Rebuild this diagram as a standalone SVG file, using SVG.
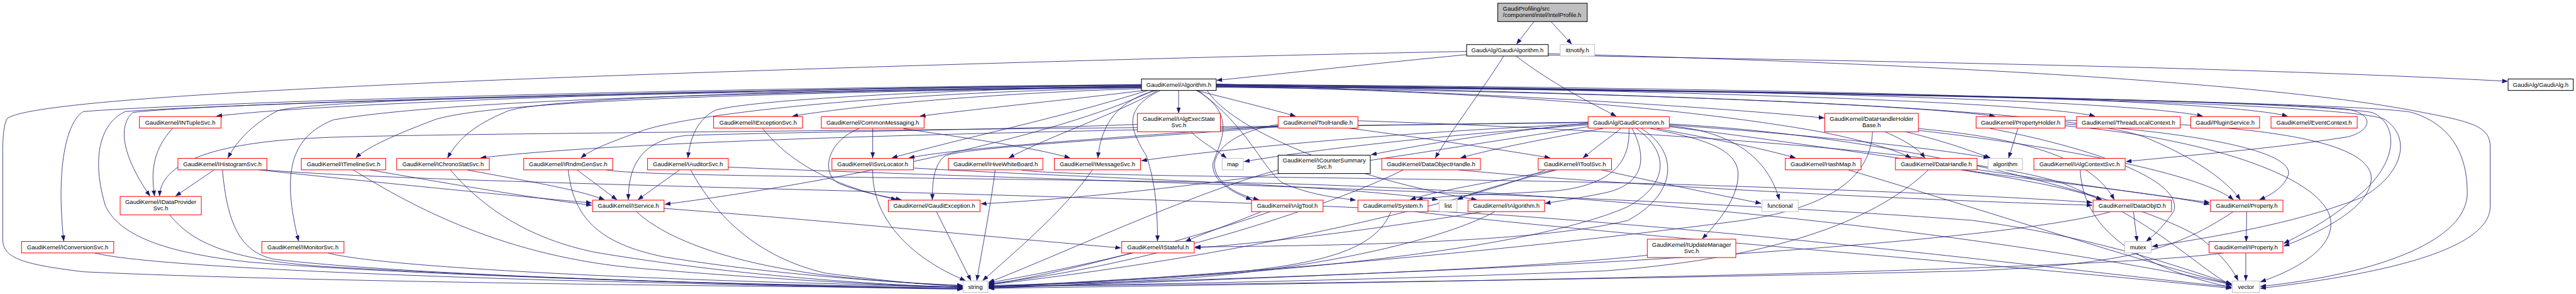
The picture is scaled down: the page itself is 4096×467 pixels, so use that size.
<svg xmlns="http://www.w3.org/2000/svg" width="4096" height="467" viewBox="0 0 4096 467">
<defs>
<marker id="ah" viewBox="0 0 12 9" refX="12" refY="4.5" markerWidth="12" markerHeight="9" orient="auto" markerUnits="userSpaceOnUse">
<path d="M0,0 L12,4.5 L0,9 z" fill="#191970" stroke="#191970" stroke-width="0.5"/>
</marker>
<style>
.e path{fill:none;stroke:#191970;stroke-width:1.1;marker-end:url(#ah)}
.node rect{fill:#ffffff;stroke:#ff0000;stroke-width:1.4}
.node.k rect{stroke:#000000}
.node.g rect{stroke:#bfbfbf}
.node.root rect{fill:#bfbfbf;stroke:#000000}
.node text{font-family:"Liberation Sans",Arial,Helvetica,sans-serif;font-size:13px;fill:#000000;text-anchor:middle}
.node.root text{text-anchor:start}
</style>
</defs>
<rect x="0" y="0" width="4096" height="467" fill="#ffffff"/>
<g transform="scale(0.72921)">
<g id="connectors" class="e">
<path d="M3345,47 L3307,96"/>
<path d="M3382,47 L3427,96"/>
<path d="M3198,119 C3000,138 2800,160 2653,175"/>
<path d="M3198,112 C2500,125 1400,160 950,180 C500,200 60,225 16,258 C8,270 6,300 6,330 L6,520 C6,560 40,575 182,592 C600,612 1500,624 2099,627"/>
<path d="M3376,120 C3900,131 4800,142 5468,177"/>
<path d="M3376,117 C4000,133 4900,170 5273,243 C5390,265 5430,275 5430,320 L5430,449 C5430,520 5300,585 4929,628"/>
<path d="M3306,122 C3380,180 3470,225 3524,253"/>
<path d="M3279,122 C3230,200 3160,290 3130,344"/>
<path d="M2489,184 C1500,195 700,225 472,253"/>
<path d="M2489,186 C1500,198 700,215 606,241 C560,265 520,300 497,344"/>
<path d="M2489,190 C1800,200 1100,215 950,260 C870,290 800,320 776,344"/>
<path d="M2489,188 C1700,196 1150,215 1100,245 C1040,270 1000,300 976,344"/>
<path d="M2489,191 C1900,202 1500,250 1400,285 C1330,310 1290,325 1267,344"/>
<path d="M2489,187 C2100,195 1650,215 1560,240 C1520,260 1505,300 1500,344"/>
<path d="M2489,193 C2200,202 1900,225 1728,253"/>
<path d="M2495,197 C2350,215 2150,235 2006,253"/>
<path d="M2489,185 C1500,190 400,225 182,243 C150,260 120,350 139,525"/>
<path d="M2489,186 C1500,195 450,225 290,245 C260,270 260,330 327,427"/>
<path d="M2489,189 C1700,200 1000,215 727,261 C630,300 615,380 651,525"/>
<path d="M2503,197 C2300,260 2100,300 1945,344"/>
<path d="M2525,197 C2430,250 2280,300 2200,344"/>
<path d="M2521,197 C2430,220 2400,280 2394,344"/>
<path d="M2570,197 L2570,246"/>
<path d="M2530,197 C2440,240 2470,290 2500,340 C2520,400 2524,460 2524,525"/>
<path d="M2608,197 C2700,220 2780,240 2825,253"/>
<path d="M2609,197 C2700,250 2660,310 2645,355 C2640,395 2690,420 2729,435"/>
<path d="M2612,197 C2724,277 2760,380 2800,400 C2860,425 2910,430 2956,436"/>
<path d="M2652,183 C3000,195 3600,220 3978,257"/>
<path d="M2652,185 C3200,195 4100,220 4350,253"/>
<path d="M2652,184 C3300,190 4400,215 4568,253"/>
<path d="M2652,184 C3400,190 4600,210 4803,253"/>
<path d="M2652,184 C3400,188 4800,205 4988,253"/>
<path d="M2652,186 C3500,192 4900,215 5120,238 C5180,250 5170,285 5120,298 C4950,325 4750,340 4636,352"/>
<path d="M2652,187 C3500,193 5000,215 5173,245 C5230,270 5230,350 5150,420 C5080,480 5020,510 4980,530"/>
<path d="M2652,189 C3600,195 5150,220 5260,245 C5340,270 5380,330 5380,420 C5380,520 5200,595 4929,624"/>
<path d="M2652,190 C3500,200 4500,230 4680,300 C4800,350 4860,400 4885,435"/>
<path d="M2632,197 C2700,300 3000,400 3220,435"/>
<path d="M2515,197 C2300,300 1800,400 1450,445"/>
<path d="M2489,190 C1500,198 500,225 273,243 C215,270 200,350 230,449 C260,510 350,550 545,571 C900,600 1600,620 2099,629"/>
<path d="M2652,188 C3300,200 3700,240 3964,286 C4060,305 4130,325 4167,344"/>
<path d="M2652,188 C3600,195 5100,215 5200,260 C5260,300 5240,380 5150,430 C5000,490 4800,520 4693,537"/>
<path d="M1873,280 C1800,310 1790,380 1830,400 C1880,420 1930,428 1965,435"/>
<path d="M1903,280 L1903,344"/>
<path d="M1970,280 C2100,300 2250,320 2333,344"/>
<path d="M1663,280 C1720,350 1800,400 1955,435"/>
<path d="M2597,287 C2620,310 2650,325 2674,344"/>
<path d="M2480,271 C2100,285 1700,288 1500,295 C1400,302 1370,360 1370,435"/>
<path d="M2940,279 C3100,300 3300,330 3380,344"/>
<path d="M2787,271 C2700,285 2650,320 2648,360 C2650,400 2700,425 2745,435"/>
<path d="M2787,276 C2500,300 2100,320 2060,340 C2035,360 2033,400 2033,435"/>
<path d="M2787,274 C2500,295 2100,320 1982,344"/>
<path d="M2961,263 C3500,280 4300,330 4500,400 C4700,480 4800,590 4867,622"/>
<path d="M3463,268 C3250,290 3100,315 2990,337"/>
<path d="M3495,280 C3380,300 3250,325 3185,344"/>
<path d="M3534,280 C3510,300 3480,320 3452,344"/>
<path d="M3552,280 C3555,350 3520,400 3400,415 C3250,425 3150,425 3090,435"/>
<path d="M3559,280 C3590,340 3590,400 3500,420 C3440,432 3400,438 3369,443"/>
<path d="M3568,280 C3640,330 3640,400 3550,450 C3300,560 2600,610 2156,624"/>
<path d="M3579,280 C3660,330 3660,420 3550,480 C3350,530 2900,535 2606,538"/>
<path d="M3599,280 C3700,300 3790,320 3790,380 C3790,430 3750,480 3712,520"/>
<path d="M3613,280 C3750,305 3850,325 3915,344"/>
<path d="M3640,274 C3760,285 3850,330 3880,435"/>
<path d="M3463,272 C3200,290 2900,320 2713,352"/>
<path d="M3463,270 C3100,285 2700,320 2489,350"/>
<path d="M3463,266 C2500,280 1400,300 1048,344"/>
<path d="M3463,267 C2500,280 900,290 700,300 C450,310 350,360 348,427"/>
<path d="M3463,276 C3100,330 2600,420 2139,444"/>
<path d="M3640,272 C3900,290 4200,320 4337,344"/>
<path d="M3640,276 C4000,320 4500,400 4818,441"/>
<path d="M3640,270 C4200,300 4700,450 4800,520 C4850,560 4870,590 4880,611"/>
<path d="M3390,370 C3300,390 3150,410 3075,435"/>
<path d="M3395,370 C3300,395 3220,415 3178,435"/>
<path d="M3492,370 C3600,395 3750,425 3840,443"/>
<path d="M3370,370 C3200,440 2700,560 2156,620"/>
<path d="M3060,370 C2900,450 2500,580 2156,618"/>
<path d="M3179,370 C3600,410 4300,440 4562,447"/>
<path d="M2787,370 C2600,420 2300,560 2156,615"/>
<path d="M376,280 C330,330 330,380 337,427"/>
<path d="M467,370 L383,427"/>
<path d="M485,370 C495,480 520,550 600,565 C900,600 1600,622 2099,625"/>
<path d="M564,370 C800,395 1100,425 1290,442"/>
<path d="M575,370 C1000,405 2500,420 3300,470 C4000,520 4600,600 4866,625"/>
<path d="M770,370 C900,450 1100,560 1400,585 C1700,610 1950,622 2099,626"/>
<path d="M806,370 C950,395 1150,430 1290,447"/>
<path d="M1018,370 C1150,395 1250,410 1318,435"/>
<path d="M982,370 C1050,450 1150,520 1300,550 C1600,600 1900,620 2099,626"/>
<path d="M1258,370 L1345,435"/>
<path d="M1239,370 C1250,470 1300,530 1450,560 C1700,600 1950,615 2099,622"/>
<path d="M1321,370 C1400,385 2000,385 2800,400 C3800,430 4600,560 4866,620"/>
<path d="M1482,370 L1391,435"/>
<path d="M1506,370 C1560,470 1650,560 1800,595 C1950,615 2050,622 2099,624"/>
<path d="M1588,364 C2200,390 3500,420 4300,480 C4600,520 4800,600 4866,618"/>
<path d="M1448,454 C1800,480 2200,520 2444,540"/>
<path d="M1388,461 C1450,520 1600,580 1850,605 C1950,615 2050,621 2099,622"/>
<path d="M370,468 C420,530 500,565 700,580 C1200,610 1800,625 2099,629"/>
<path d="M206,551 C300,575 700,595 1200,610 C1600,620 1900,628 2099,630"/>
<path d="M715,551 C800,575 1200,600 1700,615 C1900,620 2050,625 2099,625"/>
<path d="M1903,370 C1900,470 1980,560 2105,611"/>
<path d="M1993,366 C2300,385 2900,400 3135,435"/>
<path d="M2042,461 L2117,611"/>
<path d="M2170,370 C2160,450 2140,550 2130,611"/>
<path d="M2227,370 C2300,385 3000,385 3600,400 C4100,415 4400,430 4562,441"/>
<path d="M2382,370 C2320,460 2200,560 2143,611"/>
<path d="M2770,461 C2600,520 2300,600 2156,620"/>
<path d="M2750,461 C2680,490 2620,510 2585,526"/>
<path d="M2470,551 C2350,580 2250,600 2156,616"/>
<path d="M3033,461 C3000,540 2900,580 2600,600 C2400,612 2250,620 2156,624"/>
<path d="M3084,461 C3500,510 4300,570 4866,628"/>
<path d="M3233,461 C3000,500 2750,530 2606,540"/>
<path d="M3260,461 C3150,520 2900,580 2600,605 C2400,618 2250,624 2156,627"/>
<path d="M3600,555 C3300,590 2600,610 2156,628"/>
<path d="M4030,370 C4300,450 4700,580 4866,619"/>
<path d="M4110,287 C4150,305 4180,320 4197,344"/>
<path d="M4155,287 C4250,310 4300,330 4340,344"/>
<path d="M4083,287 C4080,380 4000,450 3800,480 C3200,560 2500,610 2156,626"/>
<path d="M4183,280 C4400,300 4560,340 4610,435"/>
<path d="M4183,284 C4500,320 4800,380 4870,435"/>
<path d="M4276,370 C4400,390 4520,410 4583,435"/>
<path d="M4280,370 C4450,395 4700,420 4818,445"/>
<path d="M4205,370 C4100,470 3900,560 3500,590 C3000,610 2500,620 2156,624"/>
<path d="M4400,280 L4380,344"/>
<path d="M4503,270 C4800,290 5000,330 4990,380 C4980,410 4950,425 4927,435"/>
<path d="M4340,280 C4600,330 4760,400 4740,460 C4720,490 4700,510 4680,526"/>
<path d="M4503,262 C4900,270 5150,300 5170,380 C5180,450 5050,510 4980,536"/>
<path d="M4503,274 C4800,300 5050,380 5080,470 C5100,540 5000,590 4929,614"/>
<path d="M4536,370 C4540,460 4600,570 4866,626"/>
<path d="M4652,461 L4660,526"/>
<path d="M4603,461 C4400,520 3500,590 2156,622"/>
<path d="M4899,461 L4898,526"/>
<path d="M4870,461 C4750,540 4650,575 4300,590 C3500,610 2600,620 2156,624"/>
<path d="M4897,551 L4897,611"/>
<path d="M4849,551 C4600,585 3500,610 2156,628"/>
</g>
<g id="n-root" class="node root"><rect x="3266" y="7" width="195" height="40"/><text x="3277" y="23">GaudiProfiling/src</text><text x="3277" y="37">/component/intel/IntelProfile.h</text></g>
<g id="n-gaudialgorithm" class="node k"><rect x="3198" y="97" width="178" height="25"/><text x="3287" y="114">GaudiAlg/GaudiAlgorithm.h</text></g>
<g id="n-ittnotify" class="node g"><rect x="3402" y="97" width="75" height="25"/><text x="3439.5" y="114">ittnotify.h</text></g>
<g id="n-algorithm" class="node k"><rect x="2489" y="172" width="163" height="25"/><text x="2570.5" y="189">GaudiKernel/Algorithm.h</text></g>
<g id="n-gaudialg" class="node k"><rect x="5469" y="172" width="142" height="25"/><text x="5540" y="189">GaudiAlg/GaudiAlg.h</text></g>
<g id="n-intuplesvc" class="node"><rect x="304" y="254" width="178" height="25"/><text x="393" y="271">GaudiKernel/INTupleSvc.h</text></g>
<g id="n-iexceptionsvc" class="node"><rect x="1556" y="254" width="194" height="25"/><text x="1653" y="271">GaudiKernel/IExceptionSvc.h</text></g>
<g id="n-commonmessaging" class="node"><rect x="1791" y="254" width="224" height="25"/><text x="1903" y="271">GaudiKernel/CommonMessaging.h</text></g>
<g id="n-ialgexecstatesvc" class="node"><rect x="2480" y="247" width="181" height="40"/><text x="2570.5" y="263">GaudiKernel/IAlgExecState</text><text x="2570.5" y="277">Svc.h</text></g>
<g id="n-toolhandle" class="node"><rect x="2787" y="254" width="174" height="25"/><text x="2874" y="271">GaudiKernel/ToolHandle.h</text></g>
<g id="n-gaudicommon" class="node"><rect x="3463" y="254" width="177" height="25"/><text x="3551.5" y="271">GaudiAlg/GaudiCommon.h</text></g>
<g id="n-datahandleholderbase" class="node"><rect x="3979" y="247" width="204" height="40"/><text x="4081" y="263">GaudiKernel/DataHandleHolder</text><text x="4081" y="277">Base.h</text></g>
<g id="n-propertyholder" class="node"><rect x="4309" y="254" width="194" height="25"/><text x="4406" y="271">GaudiKernel/PropertyHolder.h</text></g>
<g id="n-threadlocalcontext" class="node"><rect x="4528" y="254" width="226" height="25"/><text x="4641" y="271">GaudiKernel/ThreadLocalContext.h</text></g>
<g id="n-pluginservice" class="node"><rect x="4777" y="254" width="150" height="25"/><text x="4852" y="271">Gaudi/PluginService.h</text></g>
<g id="n-eventcontext" class="node"><rect x="4952" y="254" width="188" height="25"/><text x="5046" y="271">GaudiKernel/EventContext.h</text></g>
<g id="n-ihistogramsvc" class="node"><rect x="388" y="345" width="194" height="25"/><text x="485" y="362">GaudiKernel/IHistogramSvc.h</text></g>
<g id="n-itimelinesvc" class="node"><rect x="657" y="345" width="184" height="25"/><text x="749" y="362">GaudiKernel/ITimelineSvc.h</text></g>
<g id="n-ichronostatsvc" class="node"><rect x="865" y="345" width="202" height="25"/><text x="966" y="362">GaudiKernel/IChronoStatSvc.h</text></g>
<g id="n-irndmgensvc" class="node"><rect x="1142" y="345" width="194" height="25"/><text x="1239" y="362">GaudiKernel/IRndmGenSvc.h</text></g>
<g id="n-iauditorsvc" class="node"><rect x="1412" y="345" width="176" height="25"/><text x="1500" y="362">GaudiKernel/IAuditorSvc.h</text></g>
<g id="n-isvclocator" class="node"><rect x="1814" y="345" width="178" height="25"/><text x="1903" y="362">GaudiKernel/ISvcLocator.h</text></g>
<g id="n-ihivewhiteboard" class="node"><rect x="2068" y="345" width="206" height="25"/><text x="2171" y="362">GaudiKernel/IHiveWhiteBoard.h</text></g>
<g id="n-imessagesvc" class="node"><rect x="2299" y="345" width="188" height="25"/><text x="2393" y="362">GaudiKernel/IMessageSvc.h</text></g>
<g id="n-map" class="node g"><rect x="2665" y="345" width="46" height="25"/><text x="2688" y="362">map</text></g>
<g id="n-icountersummarysvc" class="node k"><rect x="2787" y="338" width="201" height="40"/><text x="2887.5" y="354">GaudiKernel/ICounterSummary</text><text x="2887.5" y="368">Svc.h</text></g>
<g id="n-dataobjecthandle" class="node"><rect x="3013" y="345" width="215" height="25"/><text x="3120.5" y="362">GaudiKernel/DataObjectHandle.h</text></g>
<g id="n-itoolsvc" class="node"><rect x="3354" y="345" width="160" height="25"/><text x="3434" y="362">GaudiKernel/IToolSvc.h</text></g>
<g id="n-hashmap" class="node"><rect x="3893" y="345" width="165" height="25"/><text x="3975.5" y="362">GaudiKernel/HashMap.h</text></g>
<g id="n-datahandle" class="node"><rect x="4133" y="345" width="178" height="25"/><text x="4222" y="362">GaudiKernel/DataHandle.h</text></g>
<g id="n-algorithmstd" class="node g"><rect x="4335" y="345" width="75" height="25"/><text x="4372.5" y="362">algorithm</text></g>
<g id="n-ialgcontextsvc" class="node"><rect x="4435" y="345" width="199" height="25"/><text x="4534.5" y="362">GaudiKernel/IAlgContextSvc.h</text></g>
<g id="n-idataprovidersvc" class="node"><rect x="262" y="428" width="177" height="40"/><text x="350.5" y="444">GaudiKernel/IDataProvider</text><text x="350.5" y="458">Svc.h</text></g>
<g id="n-iservice" class="node"><rect x="1292" y="436" width="156" height="25"/><text x="1370" y="453">GaudiKernel/IService.h</text></g>
<g id="n-gaudiexception" class="node"><rect x="1937" y="436" width="200" height="25"/><text x="2037" y="453">GaudiKernel/GaudiException.h</text></g>
<g id="n-ialgtool" class="node"><rect x="2729" y="436" width="156" height="25"/><text x="2807" y="453">GaudiKernel/IAlgTool.h</text></g>
<g id="n-system" class="node"><rect x="2961" y="436" width="153" height="25"/><text x="3037.5" y="453">GaudiKernel/System.h</text></g>
<g id="n-list" class="node g"><rect x="3138" y="436" width="39" height="25"/><text x="3157.5" y="453">list</text></g>
<g id="n-ialgorithm" class="node"><rect x="3201" y="436" width="167" height="25"/><text x="3284.5" y="453">GaudiKernel/IAlgorithm.h</text></g>
<g id="n-functional" class="node g"><rect x="3842" y="436" width="79" height="25"/><text x="3881.5" y="453">functional</text></g>
<g id="n-dataobjid" class="node"><rect x="4564" y="436" width="171" height="25"/><text x="4649.5" y="453">GaudiKernel/DataObjID.h</text></g>
<g id="n-property" class="node"><rect x="4820" y="436" width="158" height="25"/><text x="4899" y="453">GaudiKernel/Property.h</text></g>
<g id="n-iconversionsvc" class="node"><rect x="47" y="526" width="201" height="25"/><text x="147.5" y="543">GaudiKernel/IConversionSvc.h</text></g>
<g id="n-imonitorsvc" class="node"><rect x="571" y="526" width="179" height="25"/><text x="660.5" y="543">GaudiKernel/IMonitorSvc.h</text></g>
<g id="n-istateful" class="node"><rect x="2446" y="526" width="158" height="25"/><text x="2525" y="543">GaudiKernel/IStateful.h</text></g>
<g id="n-iupdatemanagersvc" class="node"><rect x="3592" y="521" width="193" height="40"/><text x="3688.5" y="537">GaudiKernel/IUpdateManager</text><text x="3688.5" y="551">Svc.h</text></g>
<g id="n-mutex" class="node g"><rect x="4633" y="526" width="58" height="25"/><text x="4662" y="543">mutex</text></g>
<g id="n-iproperty" class="node"><rect x="4817" y="526" width="161" height="25"/><text x="4897.5" y="543">GaudiKernel/IProperty.h</text></g>
<g id="n-string" class="node g"><rect x="2100" y="612" width="54" height="25"/><text x="2127" y="629">string</text></g>
<g id="n-vector" class="node g"><rect x="4868" y="612" width="59" height="25"/><text x="4897.5" y="629">vector</text></g>
</g>
</svg>
